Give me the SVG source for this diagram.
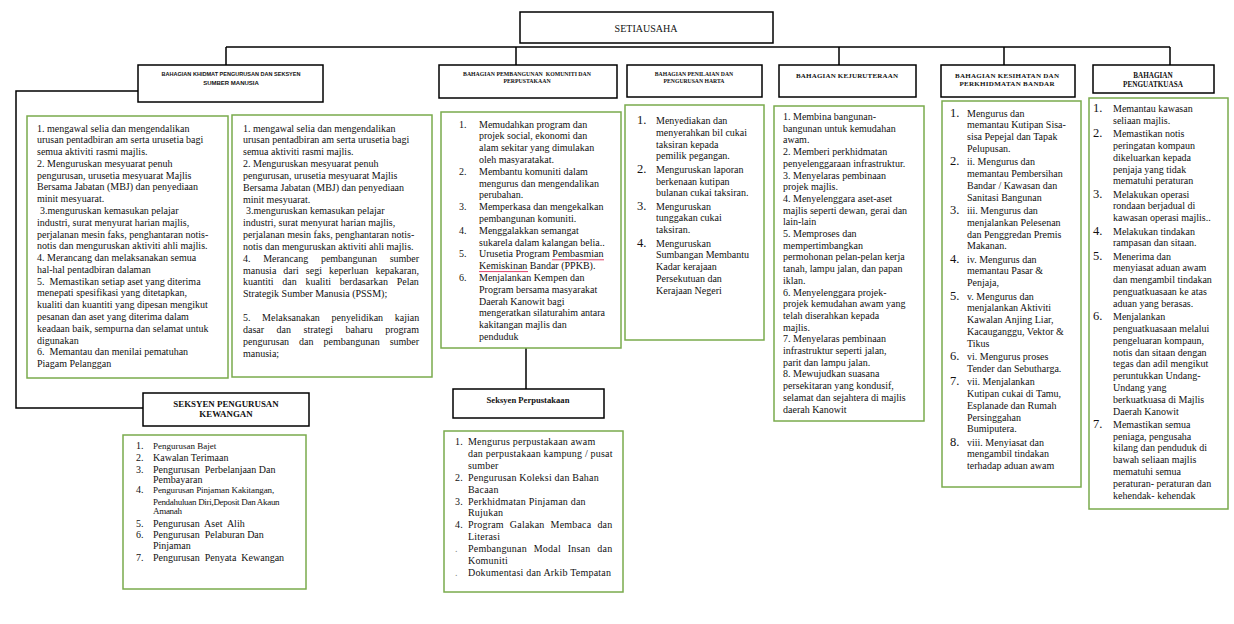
<svg xmlns="http://www.w3.org/2000/svg" width="1234" height="624" viewBox="0 0 1234 624">
<style>
.hb{fill:#fff;stroke:#000;stroke-width:1.5}
.gb{fill:#fff;stroke:#7aab4c;stroke-width:1.5}
.t{font-family:"Liberation Serif","Times New Roman",serif;font-size:10px;fill:#111}
.n{font-size:12.5px}
.hs{font-family:"Liberation Sans",Arial,sans-serif;font-weight:bold;fill:#111;text-anchor:middle}
.hd{font-family:"Liberation Serif","Times New Roman",serif;font-weight:bold;fill:#111;text-anchor:middle}
.c{fill:none;stroke:#000;stroke-width:1.5}
.ul{stroke:#e0406a;stroke-width:1}
</style>
<rect width="1234" height="624" fill="#fff"/>
<g id="connectors" class="c">
<path d="M226 47H1170"/>
<path d="M226 47V65M516 47V65M839 47V65M1004 47V65M1170 47V65"/>
<path d="M138 91H16V408H143"/>
<path d="M526 348V389"/>
</g>
<g id="setiausaha">
<rect class="hb" x="520" y="12" width="253" height="31"/>
<text class="t" x="646" y="31.5" text-anchor="middle">SETIAUSAHA</text>
</g>
<g id="khidmat">
<rect class="hb" x="138" y="65" width="185" height="37"/>
<text class="hs" font-size="6"><tspan x="231" y="76" textLength="139" lengthAdjust="spacingAndGlyphs">BAHAGIAN KHIDMAT PENGURUSAN DAN SEKSYEN</tspan><tspan x="231" y="85">SUMBER MANUSIA</tspan></text>
</g>
<g id="khidmat-list1">
<rect class="gb" x="27" y="116" width="201" height="262"/>
<text class="t">
<tspan x="37" y="131.5">1. mengawal selia dan mengendalikan</tspan>
<tspan x="37" y="143.3">urusan pentadbiran am serta urusetia bagi</tspan>
<tspan x="37" y="155.1">semua aktiviti rasmi majlis.</tspan>
<tspan x="37" y="166.8">2. Menguruskan mesyuarat penuh</tspan>
<tspan x="37" y="178.6">pengurusan, urusetia mesyuarat Majlis</tspan>
<tspan x="37" y="190.4">Bersama Jabatan (MBJ) dan penyediaan</tspan>
<tspan x="37" y="202.2">minit mesyuarat.</tspan>
<tspan x="40" y="214.0">3.menguruskan kemasukan pelajar</tspan>
<tspan x="37" y="225.7">industri, surat menyurat harian majlis,</tspan>
<tspan x="37" y="237.5">perjalanan mesin faks, penghantaran notis-</tspan>
<tspan x="37" y="249.3">notis dan menguruskan aktiviti ahli majlis.</tspan>
<tspan x="37" y="261.1">4. Merancang dan melaksanakan semua</tspan>
<tspan x="37" y="272.9">hal-hal pentadbiran dalaman</tspan>
<tspan x="37" y="284.6">5.&#160; Memastikan setiap aset yang diterima</tspan>
<tspan x="37" y="296.4">menepati spesifikasi yang ditetapkan,</tspan>
<tspan x="37" y="308.2">kualiti dan kuantiti yang dipesan mengikut</tspan>
<tspan x="37" y="320.0">pesanan dan aset yang diterima dalam</tspan>
<tspan x="37" y="331.8">keadaan baik, sempurna dan selamat untuk</tspan>
<tspan x="37" y="343.5">digunakan</tspan>
<tspan x="37" y="355.3">6.&#160; Memantau dan menilai pematuhan</tspan>
<tspan x="37" y="367.1">Piagam Pelanggan</tspan>
</text>
</g>
<g id="khidmat-list2">
<rect class="gb" x="232" y="115" width="200" height="262"/>
<text class="t">
<tspan x="243" y="131.5">1. mengawal selia dan mengendalikan</tspan>
<tspan x="243" y="143.3">urusan pentadbiran am serta urusetia bagi</tspan>
<tspan x="243" y="155.2">semua aktiviti rasmi majlis.</tspan>
<tspan x="243" y="167.0">2. Menguruskan mesyuarat penuh</tspan>
<tspan x="243" y="178.9">pengurusan, urusetia mesyuarat Majlis</tspan>
<tspan x="243" y="190.7">Bersama Jabatan (MBJ) dan penyediaan</tspan>
<tspan x="243" y="202.5">minit mesyuarat.</tspan>
<tspan x="246" y="214.4">3.menguruskan kemasukan pelajar</tspan>
<tspan x="243" y="226.2">industri, surat menyurat harian majlis,</tspan>
<tspan x="243" y="238.1">perjalanan mesin faks, penghantaran notis-</tspan>
<tspan x="243" y="249.9">notis dan menguruskan aktiviti ahli majlis.</tspan>
</text>
<text class="t" x="243" y="261.7" word-spacing="10.2">4. Merancang pembangunan sumber</text>
<text class="t" x="243" y="273.6" word-spacing="4.5">manusia dari segi keperluan kepakaran,</text>
<text class="t" x="243" y="285.4" word-spacing="6.2">kuantiti dan kualiti berdasarkan Pelan</text>
<text class="t" x="243" y="297.3">Strategik Sumber Manusia (PSSM);</text>
<text class="t" x="243" y="320.9" word-spacing="9.1">5. Melaksanakan penyelidikan kajian</text>
<text class="t" x="243" y="332.8" word-spacing="10">dasar dan strategi baharu program</text>
<text class="t" x="243" y="344.6" word-spacing="7.5">pengurusan dan pembangunan sumber</text>
<text class="t" x="243" y="356.5">manusia;</text>
</g>
<g id="pembangunan">
<rect class="hb" x="439" y="65" width="178" height="33"/>
<text class="hd" font-size="5.8"><tspan x="527" y="75.5">BAHAGIAN PEMBANGUNAN&#160; KOMUNITI DAN</tspan><tspan x="527" y="83">PERPUSTAKAAN</tspan></text>
</g>
<g id="pembangunan-list">
<rect class="gb" x="441" y="112" width="180" height="236"/>
<text class="t">
<tspan x="459" y="127.5">1.</tspan><tspan x="479" y="127.5">Memudahkan program dan</tspan>
<tspan x="479" y="139.3">projek social, ekonomi dan</tspan>
<tspan x="479" y="151.1">alam sekitar yang dimulakan</tspan>
<tspan x="479" y="162.9">oleh masyaratakat.</tspan>
<tspan x="459" y="174.7">2.</tspan><tspan x="479" y="174.7">Membantu komuniti dalam</tspan>
<tspan x="479" y="186.5">mengurus dan mengendalikan</tspan>
<tspan x="479" y="198.3">perubahan.</tspan>
<tspan x="459" y="210.1">3.</tspan><tspan x="479" y="210.1">Memperkasa dan mengekalkan</tspan>
<tspan x="479" y="221.9">pembangunan komuniti.</tspan>
<tspan x="459" y="233.7">4.</tspan><tspan x="479" y="233.7">Menggalakkan semangat</tspan>
<tspan x="479" y="245.5">sukarela dalam kalangan belia..</tspan>
<tspan x="459" y="257.3">5.</tspan><tspan x="479" y="257.3">Urusetia Program Pembasmian</tspan>
<tspan x="479" y="269.1">Kemiskinan Bandar (PPKB).</tspan>
<tspan x="459" y="280.9">6.</tspan><tspan x="479" y="280.9">Menjalankan Kempen dan</tspan>
<tspan x="479" y="292.7">Program bersama masyarakat</tspan>
<tspan x="479" y="304.5">Daerah Kanowit bagi</tspan>
<tspan x="479" y="316.3">mengeratkan silaturahim antara</tspan>
<tspan x="479" y="328.1">kakitangan majlis dan</tspan>
<tspan x="479" y="339.9">penduduk</tspan>
</text>
<path class="ul" d="M552 259.8H604M479 271.6H528"/>
</g>
<g id="penilaian">
<rect class="hb" x="627" y="65" width="135" height="32"/>
<text class="hd" font-size="5.7"><tspan x="694" y="75.5">BAHAGIAN PENILAIAN DAN</tspan><tspan x="694" y="83">PENGURUSAN HARTA</tspan></text>
</g>
<g id="penilaian-list">
<rect class="gb" x="625" y="105" width="139" height="235"/>
<text class="t">
<tspan class="n" x="637" y="124">1.</tspan><tspan x="656" y="124">Menyediakan dan</tspan>
<tspan x="656" y="135.8">menyerahkan bil cukai</tspan>
<tspan x="656" y="147.6">taksiran kepada</tspan>
<tspan x="656" y="159.4">pemilik pegangan.</tspan>
<tspan class="n" x="637" y="172.7">2.</tspan><tspan x="656" y="172.7">Menguruskan laporan</tspan>
<tspan x="656" y="184.5">berkenaan kutipan</tspan>
<tspan x="656" y="196.3">bulanan cukai taksiran.</tspan>
<tspan class="n" x="637" y="209.6">3.</tspan><tspan x="656" y="209.6">Menguruskan</tspan>
<tspan x="656" y="221.4">tunggakan cukai</tspan>
<tspan x="656" y="233.2">taksiran.</tspan>
<tspan class="n" x="637" y="246.5">4.</tspan><tspan x="656" y="246.5">Menguruskan</tspan>
<tspan x="656" y="258.3">Sumbangan Membantu</tspan>
<tspan x="656" y="270.1">Kadar kerajaan</tspan>
<tspan x="656" y="281.9">Persekutuan dan</tspan>
<tspan x="656" y="293.7">Kerajaan Negeri</tspan>
</text>
</g>
<g id="kejuruteraan">
<rect class="hb" x="779" y="65" width="137" height="32"/>
<text class="hd" font-size="7" x="847" y="77.5" textLength="102">BAHAGIAN KEJURUTERAAN</text>
</g>
<g id="kejuruteraan-list">
<rect class="gb" x="774" y="106" width="150" height="315"/>
<text class="t">
<tspan x="783" y="120">1. Membina bangunan-</tspan>
<tspan x="783" y="131.7">bangunan untuk kemudahan</tspan>
<tspan x="783" y="143.4">awam.</tspan>
<tspan x="783" y="155.1">2. Memberi perkhidmatan</tspan>
<tspan x="783" y="166.8">penyelenggaraan infrastruktur.</tspan>
<tspan x="783" y="178.5">3. Menyelaras pembinaan</tspan>
<tspan x="783" y="190.2">projek majlis.</tspan>
<tspan x="783" y="201.9">4. Menyelenggara aset-aset</tspan>
<tspan x="783" y="213.6">majlis seperti dewan, gerai dan</tspan>
<tspan x="783" y="225.3">lain-lain</tspan>
<tspan x="783" y="237.0">5. Memproses dan</tspan>
<tspan x="783" y="248.7">mempertimbangkan</tspan>
<tspan x="783" y="260.4">permohonan pelan-pelan kerja</tspan>
<tspan x="783" y="272.1">tanah, lampu jalan, dan papan</tspan>
<tspan x="783" y="283.8">iklan.</tspan>
<tspan x="783" y="295.5">6. Menyelenggara projek-</tspan>
<tspan x="783" y="307.2">projek kemudahan awam yang</tspan>
<tspan x="783" y="318.9">telah diserahkan kepada</tspan>
<tspan x="783" y="330.6">majlis.</tspan>
<tspan x="783" y="342.3">7. Menyelaras pembinaan</tspan>
<tspan x="783" y="354.0">infrastruktur seperti jalan,</tspan>
<tspan x="783" y="365.7">parit dan lampu jalan.</tspan>
<tspan x="783" y="377.4">8. Mewujudkan suasana</tspan>
<tspan x="783" y="389.1">persekitaran yang kondusif,</tspan>
<tspan x="783" y="400.8">selamat dan sejahtera di majlis</tspan>
<tspan x="783" y="412.5">daerah Kanowit</tspan>
</text>
</g>
<g id="kesihatan">
<rect class="hb" x="941" y="65" width="134" height="32"/>
<text class="hd" font-size="7"><tspan x="1007" y="77.5" textLength="104">BAHAGIAN KESIHATAN DAN</tspan><tspan x="1007" y="85.5" textLength="95">PERKHIDMATAN BANDAR</tspan></text>
</g>
<g id="kesihatan-list">
<rect class="gb" x="942" y="101" width="139" height="386"/>
<text class="t">
<tspan class="n" x="950" y="116.5">1.</tspan><tspan x="967" y="116.5">Mengurus dan</tspan>
<tspan x="967" y="128.3">memantau Kutipan Sisa-</tspan>
<tspan x="967" y="140.1">sisa Pepejal dan Tapak</tspan>
<tspan x="967" y="151.9">Pelupusan.</tspan>
<tspan class="n" x="950" y="165.2">2.</tspan><tspan x="967" y="165.2">ii. Mengurus dan</tspan>
<tspan x="967" y="177.0">memantau Pembersihan</tspan>
<tspan x="967" y="188.8">Bandar / Kawasan dan</tspan>
<tspan x="967" y="200.6">Sanitasi Bangunan</tspan>
<tspan class="n" x="950" y="213.9">3.</tspan><tspan x="967" y="213.9">iii. Mengurus dan</tspan>
<tspan x="967" y="225.7">menjalankan Pelesenan</tspan>
<tspan x="967" y="237.5">dan Penggredan Premis</tspan>
<tspan x="967" y="249.3">Makanan.</tspan>
<tspan class="n" x="950" y="262.6">4.</tspan><tspan x="967" y="262.6">iv. Mengurus dan</tspan>
<tspan x="967" y="274.4">memantau Pasar &amp;</tspan>
<tspan x="967" y="286.2">Penjaja,</tspan>
<tspan class="n" x="950" y="299.5">5.</tspan><tspan x="967" y="299.5">v. Mengurus dan</tspan>
<tspan x="967" y="311.3">menjalankan Aktiviti</tspan>
<tspan x="967" y="323.1">Kawalan Anjing Liar,</tspan>
<tspan x="967" y="334.9">Kacauganggu, Vektor &amp;</tspan>
<tspan x="967" y="346.7">Tikus</tspan>
<tspan class="n" x="950" y="360.0">6.</tspan><tspan x="967" y="360.0">vi. Mengurus proses</tspan>
<tspan x="967" y="371.8">Tender dan Sebutharga.</tspan>
<tspan class="n" x="950" y="385.1">7.</tspan><tspan x="967" y="385.1">vii. Menjalankan</tspan>
<tspan x="967" y="396.9">Kutipan cukai di Tamu,</tspan>
<tspan x="967" y="408.7">Esplanade dan Rumah</tspan>
<tspan x="967" y="420.5">Persinggahan</tspan>
<tspan x="967" y="432.3">Bumiputera.</tspan>
<tspan class="n" x="950" y="445.6">8.</tspan><tspan x="967" y="445.6">viii. Menyiasat dan</tspan>
<tspan x="967" y="457.4">mengambil tindakan</tspan>
<tspan x="967" y="469.2">terhadap aduan awam</tspan>
</text>
</g>
<g id="penguatkuasa">
<rect class="hb" x="1093" y="65" width="121" height="28"/>
<text class="hd" font-size="7.2"><tspan x="1153" y="77.5">BAHAGIAN</tspan><tspan x="1153" y="86.5">PENGUATKUASA</tspan></text>
</g>
<g id="penguatkuasa-list">
<rect class="gb" x="1089" y="98" width="139" height="411"/>
<text class="t">
<tspan class="n" x="1093" y="112">1.</tspan><tspan x="1113" y="112">Memantau kawasan</tspan>
<tspan x="1113" y="123.8">seliaan majlis.</tspan>
<tspan class="n" x="1093" y="137.1">2.</tspan><tspan x="1113" y="137.1">Memastikan notis</tspan>
<tspan x="1113" y="148.9">peringatan kompaun</tspan>
<tspan x="1113" y="160.7">dikeluarkan kepada</tspan>
<tspan x="1113" y="172.5">penjaja yang tidak</tspan>
<tspan x="1113" y="184.3">mematuhi peraturan</tspan>
<tspan class="n" x="1093" y="197.6">3.</tspan><tspan x="1113" y="197.6">Melakukan operasi</tspan>
<tspan x="1113" y="209.4">rondaan berjadual di</tspan>
<tspan x="1113" y="221.2">kawasan operasi majlis..</tspan>
<tspan class="n" x="1093" y="234.5">4.</tspan><tspan x="1113" y="234.5">Melakukan tindakan</tspan>
<tspan x="1113" y="246.3">rampasan dan sitaan.</tspan>
<tspan class="n" x="1093" y="259.6">5.</tspan><tspan x="1113" y="259.6">Menerima dan</tspan>
<tspan x="1113" y="271.4">menyiasat aduan awam</tspan>
<tspan x="1113" y="283.2">dan mengambil tindakan</tspan>
<tspan x="1113" y="295.0">penguatkuasaan ke atas</tspan>
<tspan x="1113" y="306.8">aduan yang berasas.</tspan>
<tspan class="n" x="1093" y="320.1">6.</tspan><tspan x="1113" y="320.1">Menjalankan</tspan>
<tspan x="1113" y="331.9">penguatkuasaan melalui</tspan>
<tspan x="1113" y="343.7">pengeluaran kompaun,</tspan>
<tspan x="1113" y="355.5">notis dan sitaan dengan</tspan>
<tspan x="1113" y="367.3">tegas dan adil mengikut</tspan>
<tspan x="1113" y="379.1">peruntukkan Undang-</tspan>
<tspan x="1113" y="390.9">Undang yang</tspan>
<tspan x="1113" y="402.7">berkuatkuasa di Majlis</tspan>
<tspan x="1113" y="414.5">Daerah Kanowit</tspan>
<tspan class="n" x="1093" y="427.8">7.</tspan><tspan x="1113" y="427.8">Memastikan semua</tspan>
<tspan x="1113" y="439.6">peniaga, pengusaha</tspan>
<tspan x="1113" y="451.4">kilang dan penduduk di</tspan>
<tspan x="1113" y="463.2">bawah seliaan majlis</tspan>
<tspan x="1113" y="475.0">mematuhi semua</tspan>
<tspan x="1113" y="486.8">peraturan- peraturan dan</tspan>
<tspan x="1113" y="498.6">kehendak- kehendak</tspan>
</text>
</g>
<g id="kewangan">
<rect class="hb" x="143" y="393" width="166" height="33"/>
<text class="hd" font-size="8.9"><tspan x="226" y="407">SEKSYEN PENGURUSAN</tspan><tspan x="226" y="417">KEWANGAN</tspan></text>
</g>
<g id="kewangan-list">
<rect class="gb" x="123" y="435" width="183" height="154"/>
<text class="t">
<tspan x="136" y="448.5">1.</tspan><tspan x="153" y="448.5" font-size="9">Pengurusan Bajet</tspan>
<tspan x="136" y="460.5">2.</tspan><tspan x="153" y="460.5">Kawalan Terimaan</tspan>
<tspan x="136" y="472.5">3.</tspan><tspan x="153" y="472.5">Pengurusan&#160; Perbelanjaan Dan</tspan>
<tspan x="153" y="482.5">Pembayaran</tspan>
<tspan x="136" y="492.5">4.</tspan><tspan x="153" y="492.5" font-size="9" letter-spacing="-0.1">Pengurusan Pinjaman Kakitangan,</tspan>
<tspan x="153" y="504.5" font-size="9" letter-spacing="-0.3">Pendahuluan Diri,Deposit Dan Akaun</tspan>
<tspan x="153" y="513.5" font-size="9" letter-spacing="-0.3">Amanah</tspan>
<tspan x="136" y="526.5">5.</tspan><tspan x="153" y="526.5">Pengurusan&#160; Aset&#160; Alih</tspan>
<tspan x="136" y="537.5">6.</tspan><tspan x="153" y="537.5">Pengurusan&#160; Pelaburan Dan</tspan>
<tspan x="153" y="548.5">Pinjaman</tspan>
<tspan x="136" y="560.5">7.</tspan><tspan x="153" y="560.5">Pengurusan&#160; Penyata&#160; Kewangan</tspan>
</text>
</g>
<g id="perpustakaan">
<rect class="hb" x="453" y="389" width="151" height="29"/>
<text class="hd" font-size="8.6" x="528" y="403">Seksyen Perpustakaan</text>
</g>
<g id="perpustakaan-list">
<rect class="gb" x="444" y="431" width="179" height="161"/>
<text class="t" letter-spacing="0.2">
<tspan x="455" y="445">1.</tspan><tspan x="468" y="445">Mengurus perpustakaan awam</tspan>
<tspan x="468" y="456.9">dan perpustakaan kampung / pusat</tspan>
<tspan x="468" y="468.8">sumber</tspan>
<tspan x="455" y="480.7">2.</tspan><tspan x="468" y="480.7">Pengurusan Koleksi dan Bahan</tspan>
<tspan x="468" y="492.6">Bacaan</tspan>
<tspan x="455" y="504.5">3.</tspan><tspan x="468" y="504.5">Perkhidmatan Pinjaman dan</tspan>
<tspan x="468" y="516.4">Rujukan</tspan>
<tspan x="455" y="528.3">4.</tspan>
<tspan x="468" y="540.2">Literasi</tspan>
<tspan x="455" y="552.1" fill="#888">.</tspan>
<tspan x="468" y="564.0">Komuniti</tspan>
<tspan x="455" y="575.9" fill="#888">.</tspan><tspan x="468" y="575.9">Dokumentasi dan Arkib Tempatan</tspan>
</text>
<text class="t" x="468" y="528.3" letter-spacing="0.2" word-spacing="3.3">Program Galakan Membaca dan</text>
<text class="t" x="468" y="552.1" letter-spacing="0.2" word-spacing="4.2">Pembangunan Modal Insan dan</text>
</g>
</svg>
